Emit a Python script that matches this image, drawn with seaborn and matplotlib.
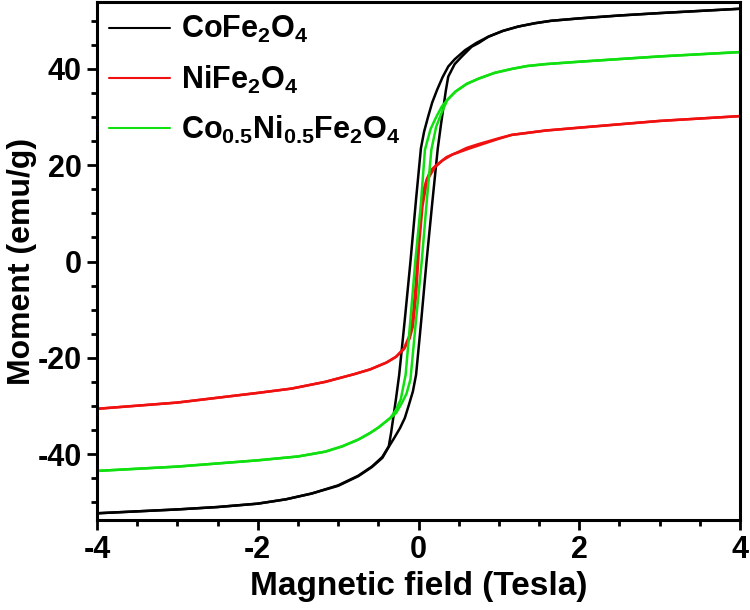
import matplotlib
matplotlib.use("Agg")
import matplotlib.pyplot as plt
from matplotlib.ticker import MultipleLocator
import seaborn as sns

# CoFe2O4 loop
co_down_h = [4.0, 3.0, 2.5, 2.0, 1.65, 1.45, 1.24, 1.05, 0.87, 0.72, 0.58, 0.45, 0.37, 0.30, 0.23, 0.17, 0.12,
             0.07, 0.03, -0.03, -0.10, -0.17, -0.24, -0.28, -0.31, -0.34, -0.37, -0.45, -0.58, -0.75, -1.0,
             -1.33, -1.65, -2.0, -2.5, -3.0, -4.0]
co_down_m = [52.5, 51.6, 51.1, 50.5, 50.0, 49.5, 48.8, 47.9, 46.7, 45.4, 43.9, 42.0, 40.5, 38.3, 35.6, 33.0, 30.1,
             27.0, 23.5, 13.0, 0.0, -12.0, -23.5, -28.5, -32.0, -35.5, -38.4, -40.6, -42.6, -44.5, -46.5,
             -48.2, -49.4, -50.3, -51.0, -51.5, -52.3]
co_up_h = [-4.0, -3.0, -2.5, -2.0, -1.65, -1.33, -1.0, -0.75, -0.58, -0.45, -0.37, -0.30, -0.23, -0.17, -0.12,
           -0.07, -0.03, 0.03, 0.10, 0.17, 0.24, 0.28, 0.31, 0.34, 0.37, 0.45, 0.54, 0.66, 0.75, 0.87, 1.05,
           1.24, 1.45, 1.65, 2.0, 2.5, 3.0, 4.0]
co_up_m = [-52.3, -51.5, -51.0, -50.3, -49.4, -48.2, -46.6, -44.6, -42.7, -40.8, -38.5, -36.6, -34.6, -32.5, -29.8,
           -27.0, -23.5, -13.0, 0.0, 12.0, 23.5, 28.5, 32.0, 35.5, 38.4, 41.0, 42.6, 44.6, 45.4, 46.7, 47.9,
           48.8, 49.5, 50.0, 50.5, 51.1, 51.6, 52.5]

# NiFe2O4 loop
ni_down_h = [4.0, 3.0, 2.0, 1.58, 1.16, 1.0, 0.75, 0.60, 0.50, 0.35, 0.22, 0.15, 0.10, 0.05, 0.01, -0.03, -0.07,
             -0.11, -0.18, -0.28, -0.40, -0.60, -0.80, -1.16, -1.58, -2.0, -3.0, -4.0]
ni_down_m = [30.2, 29.2, 27.8, 27.2, 26.3, 25.6, 24.4, 23.6, 22.8, 21.7, 20.0, 18.9, 17.0, 14.0, 7.0, -4.0, -11.5,
             -15.3, -18.0, -19.8, -21.0, -22.4, -23.4, -25.0, -26.4, -27.3, -29.3, -30.6]
ni_up_h = [-4.0, -3.0, -2.0, -1.58, -1.16, -0.80, -0.60, -0.40, -0.28, -0.18, -0.11, -0.07, -0.03, 0.01, 0.05,
           0.09, 0.13, 0.20, 0.30, 0.42, 0.62, 0.80, 1.0, 1.16, 1.58, 2.0, 3.0, 4.0]
ni_up_m = [-30.6, -29.3, -27.3, -26.4, -25.0, -23.4, -22.4, -21.0, -19.8, -18.2, -16.0, -13.5, -7.0, 4.0, 11.5,
           15.3, 17.5, 19.5, 21.0, 22.2, 23.4, 24.4, 25.5, 26.3, 27.2, 27.8, 29.2, 30.2]

# Co0.5Ni0.5Fe2O4 loop
cn_down_h = [4.0, 3.0, 2.0, 1.58, 1.35, 1.16, 0.95, 0.75, 0.60, 0.46, 0.36, 0.29, 0.22, 0.15, 0.08, 0.03, -0.04,
             -0.10, -0.16, -0.22, -0.28, -0.35, -0.50, -0.60, -0.75, -0.95, -1.16, -1.5, -2.0, -3.0, -4.0]
cn_down_m = [43.5, 42.6, 41.5, 41.0, 40.6, 40.0, 39.2, 38.0, 36.9, 35.3, 33.6, 32.2, 30.0, 27.5, 23.2, 12.0, 0.0,
             -12.0, -23.5, -28.6, -30.8, -32.5, -34.5, -35.6, -37.0, -38.4, -39.5, -40.5, -41.3, -42.6, -43.5]
cn_up_h = [-4.0, -3.0, -2.0, -1.5, -1.16, -0.95, -0.75, -0.60, -0.50, -0.35, -0.28, -0.21, -0.15, -0.10, -0.03,
           0.04, 0.10, 0.16, 0.22, 0.29, 0.36, 0.46, 0.60, 0.75, 0.95, 1.16, 1.35, 1.58, 2.0, 3.0, 4.0]
cn_up_m = [-43.5, -42.6, -41.3, -40.5, -39.5, -38.4, -37.0, -35.6, -34.5, -32.5, -31.5, -29.5, -27.5, -24.5, -12.0,
           0.0, 12.0, 23.2, 28.0, 31.0, 33.6, 35.3, 36.9, 38.0, 39.2, 40.0, 40.6, 41.0, 41.5, 42.6, 43.5]

labels = [r"CoFe$_2$O$_4$", r"NiFe$_2$O$_4$", r"Co$_{0.5}$Ni$_{0.5}$Fe$_2$O$_4$"]
colors = ["black", "#f01010", "#10e010"]

sns.set_style("white")
plt.rcParams["font.family"] = ["Liberation Sans", "DejaVu Sans"]
plt.rcParams["font.weight"] = "bold"
plt.rcParams["axes.unicode_minus"] = False
plt.rcParams["text.color"] = "black"
plt.rcParams["axes.labelcolor"] = "black"
plt.rcParams["xtick.color"] = "black"
plt.rcParams["ytick.color"] = "black"
plt.rcParams["mathtext.fontset"] = "custom"
plt.rcParams["mathtext.rm"] = "Liberation Sans:bold"
plt.rcParams["mathtext.it"] = "Liberation Sans:bold"
plt.rcParams["mathtext.bf"] = "Liberation Sans:bold"

fig = plt.figure(figsize=(7.5, 6.1), dpi=100)
ax = fig.add_axes([0.1293, 0.1475, 0.8574, 0.8492])

loops = [
    (co_down_h, co_down_m, co_up_h, co_up_m),
    (ni_down_h, ni_down_m, ni_up_h, ni_up_m),
    (cn_down_h, cn_down_m, cn_up_h, cn_up_m),
]
for (dh, dm, uh, um), lab, col in zip(loops, labels, colors):
    sns.lineplot(x=dh, y=dm, sort=False, color=col, linewidth=1.8, label=lab, ax=ax)
    sns.lineplot(x=uh, y=um, sort=False, color=col, linewidth=1.8, ax=ax)

ax.set_xlim(-4, 4)
ax.set_ylim(-53.7, 53.9)
ax.xaxis.set_major_locator(MultipleLocator(2))
ax.xaxis.set_minor_locator(MultipleLocator(0.5))
ax.yaxis.set_major_locator(MultipleLocator(20))
ax.yaxis.set_minor_locator(MultipleLocator(5))
ax.tick_params(which="major", direction="out", length=7, width=2, labelsize=22, pad=4,
               bottom=True, left=True, top=False, right=False)
ax.tick_params(which="minor", direction="out", length=4, width=2,
               bottom=True, left=True, top=False, right=False)
for lbl in ax.get_xticklabels() + ax.get_yticklabels():
    lbl.set_fontweight("bold")
for sp in ax.spines.values():
    sp.set_linewidth(2.2)
    sp.set_color("black")

ax.set_xlabel("Magnetic field (Tesla)", fontsize=24, fontweight="bold", labelpad=4)
ax.set_ylabel("Moment (emu/g)", fontsize=23, fontweight="bold", labelpad=0)

leg = ax.legend(loc="upper left", frameon=False, fontsize=22, handlelength=2.0, handletextpad=0.35,
                labelspacing=0.6, borderaxespad=0.2, borderpad=0.2)
for line in leg.get_lines():
    line.set_linewidth(1.5)

fig.savefig("out.png", dpi=100)
